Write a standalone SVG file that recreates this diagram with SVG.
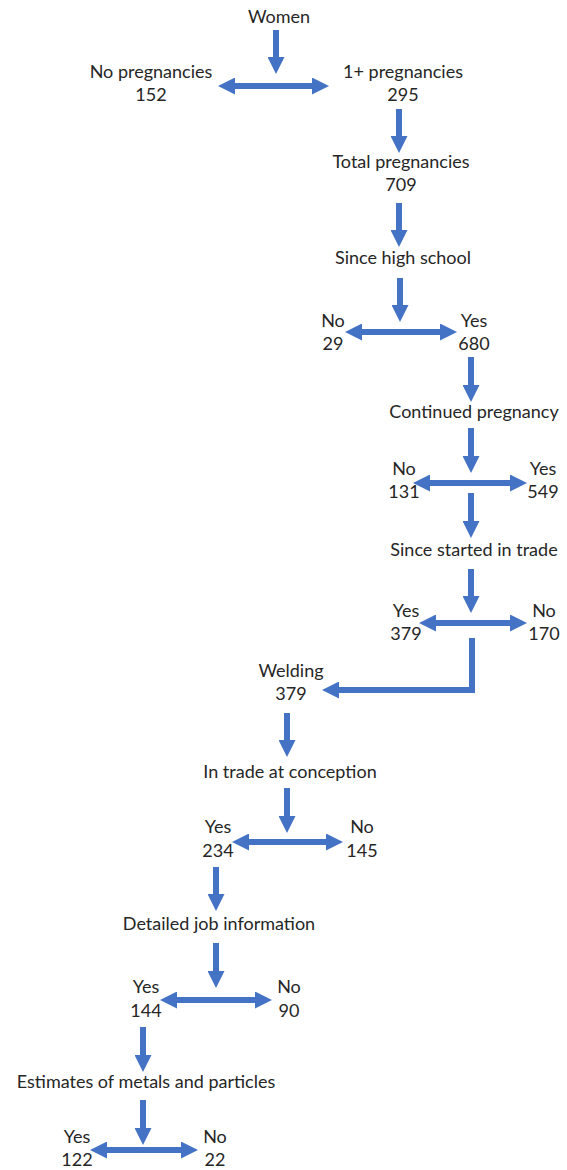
<svg xmlns="http://www.w3.org/2000/svg" width="567" height="1170" viewBox="0 0 567 1170">
<style>
  text { font-family: Lato, "Open Sans", sans-serif; font-size: 18px; fill: #262626; text-anchor: middle; }
  .c { fill: none; stroke: #4472C4; stroke-width: 6; }
</style>
<defs>
  <marker id="ah" markerUnits="userSpaceOnUse" markerWidth="17" markerHeight="17" refX="0" refY="8.5" orient="auto-start-reverse">
    <path d="M0,0 L17,8.5 L0,17 z" fill="#4472C4"/>
  </marker>
</defs>
<rect width="567" height="1170" fill="#ffffff"/>
<g id="connectors">
  <line class="c" x1="276" y1="30" x2="276" y2="57" marker-end="url(#ah)"/>
  <line class="c" x1="235" y1="86" x2="312" y2="86" marker-start="url(#ah)" marker-end="url(#ah)"/>
  <line class="c" x1="399" y1="109" x2="399" y2="136" marker-end="url(#ah)"/>
  <line class="c" x1="399" y1="203" x2="399" y2="230" marker-end="url(#ah)"/>
  <line class="c" x1="400" y1="278" x2="400" y2="305" marker-end="url(#ah)"/>
  <line class="c" x1="362" y1="332" x2="440" y2="332" marker-start="url(#ah)" marker-end="url(#ah)"/>
  <line class="c" x1="471" y1="357" x2="471" y2="385" marker-end="url(#ah)"/>
  <line class="c" x1="471" y1="428" x2="471" y2="456" marker-end="url(#ah)"/>
  <line class="c" x1="430" y1="483" x2="510" y2="483" marker-start="url(#ah)" marker-end="url(#ah)"/>
  <line class="c" x1="471" y1="493" x2="471" y2="521" marker-end="url(#ah)"/>
  <line class="c" x1="471" y1="569" x2="471" y2="596" marker-end="url(#ah)"/>
  <line class="c" x1="436" y1="623" x2="510" y2="623" marker-start="url(#ah)" marker-end="url(#ah)"/>
  <polyline class="c" points="472,638 472,690 339,690" marker-end="url(#ah)"/>
  <line class="c" x1="287" y1="713" x2="287" y2="740" marker-end="url(#ah)"/>
  <line class="c" x1="287" y1="788" x2="287" y2="816" marker-end="url(#ah)"/>
  <line class="c" x1="249" y1="842" x2="326" y2="842" marker-start="url(#ah)" marker-end="url(#ah)"/>
  <line class="c" x1="216" y1="867" x2="216" y2="894" marker-end="url(#ah)"/>
  <line class="c" x1="216" y1="943" x2="216" y2="971" marker-end="url(#ah)"/>
  <line class="c" x1="177" y1="1000" x2="255" y2="1000" marker-start="url(#ah)" marker-end="url(#ah)"/>
  <line class="c" x1="143" y1="1027" x2="143" y2="1055" marker-end="url(#ah)"/>
  <line class="c" x1="143" y1="1100" x2="143" y2="1128" marker-end="url(#ah)"/>
  <line class="c" x1="107" y1="1150" x2="181" y2="1150" marker-start="url(#ah)" marker-end="url(#ah)"/>
</g>
<g id="women"><text x="279" y="23">Women</text></g>
<g id="no-pregnancies"><text x="151" y="78">No pregnancies</text><text x="151" y="101">152</text></g>
<g id="pregnancies-1plus"><text x="403" y="78">1+ pregnancies</text><text x="403" y="101">295</text></g>
<g id="total-pregnancies"><text x="401" y="168">Total pregnancies</text><text x="401" y="191">709</text></g>
<g id="since-high-school"><text x="403" y="264">Since high school</text></g>
<g id="hs-no"><text x="333" y="327">No</text><text x="333" y="350">29</text></g>
<g id="hs-yes"><text x="474" y="327">Yes</text><text x="474" y="350">680</text></g>
<g id="continued-pregnancy"><text x="474" y="418">Continued pregnancy</text></g>
<g id="cp-no"><text x="404" y="475">No</text><text x="404" y="498">131</text></g>
<g id="cp-yes"><text x="543" y="475">Yes</text><text x="543" y="498">549</text></g>
<g id="since-started"><text x="474" y="556">Since started in trade</text></g>
<g id="st-yes"><text x="406" y="617">Yes</text><text x="406" y="640">379</text></g>
<g id="st-no"><text x="544" y="617">No</text><text x="544" y="640">170</text></g>
<g id="welding"><text x="291" y="677">Welding</text><text x="291" y="700">379</text></g>
<g id="in-trade"><text x="290" y="778">In trade at conception</text></g>
<g id="it-yes"><text x="218" y="833">Yes</text><text x="218" y="857">234</text></g>
<g id="it-no"><text x="362" y="833">No</text><text x="362" y="857">145</text></g>
<g id="detailed-job"><text x="219" y="930">Detailed job information</text></g>
<g id="dj-yes"><text x="146" y="993">Yes</text><text x="146" y="1017">144</text></g>
<g id="dj-no"><text x="289" y="993">No</text><text x="289" y="1017">90</text></g>
<g id="estimates"><text x="146" y="1088">Estimates of metals and particles</text></g>
<g id="es-yes"><text x="77" y="1143">Yes</text><text x="77" y="1166">122</text></g>
<g id="es-no"><text x="215" y="1143">No</text><text x="215" y="1166">22</text></g>
</svg>
